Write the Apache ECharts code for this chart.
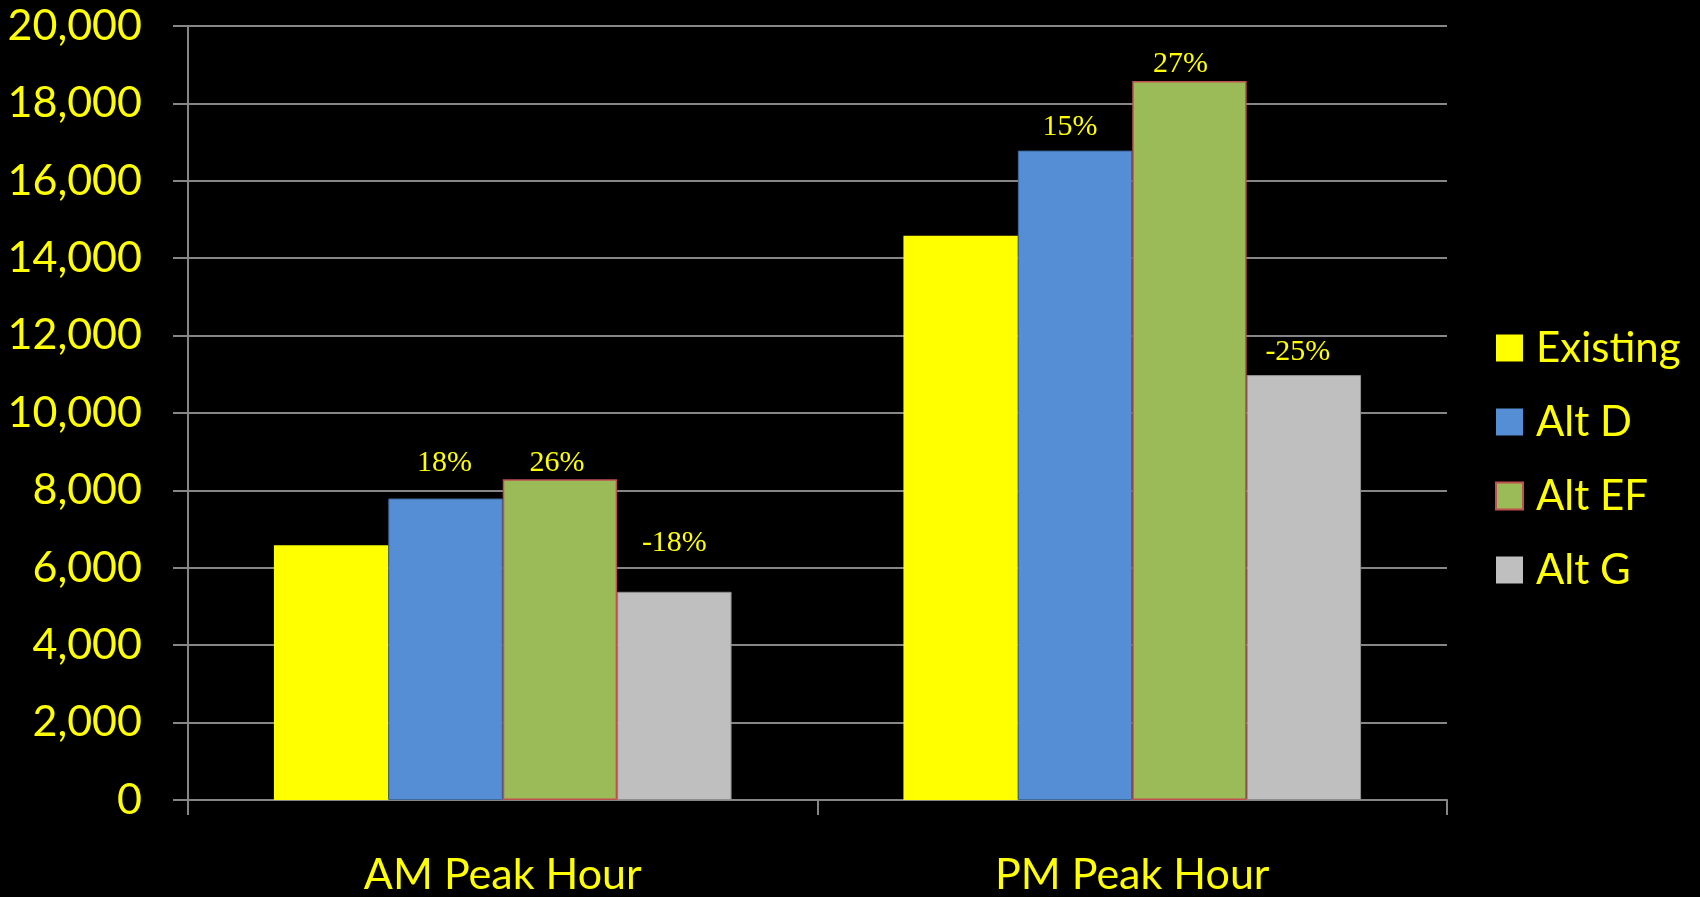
<!DOCTYPE html>
<html>
<head>
<meta charset="utf-8">
<script src="https://cdn.jsdelivr.net/npm/echarts@6/dist/echarts.min.js"></script>
<style>
  html, body { margin: 0; padding: 0; background: #000; }
  #chart { width: 1700px; height: 897px; }
</style>
</head>
<body>
<div id="chart"></div>
<script>
// Peak-hour volumes by alternative
const categories = ['AM Peak Hour', 'PM Peak Hour'];
const seriesNames = ['Existing', 'Alt D', 'Alt EF', 'Alt G'];
const existing = [6580, 14580];
const altD = [7790, 16780];
const altEF = [8290, 18580];
const altG = [5380, 10980];
const yMin = 0;
const yMax = 20000;
const yStep = 2000;

// Label placement tweaks per alternative: [dx, distance above bar] for AM, PM
const labelPlace = {
  'Alt D': [[-1, 20], [-5, 8]],
  'Alt EF': [[-3, 1], [-9, 2]],
  'Alt G': [[0, 34], [-6, 8]]
};

const YELLOW = '#FFFF00';
const GRID = '#868686';
const labelFont = 'Lato';

const styles = {
  'Existing': { color: '#FFFF00', borderWidth: 0 },
  'Alt D': { color: '#558ED5', borderColor: '#3F6A9E', borderWidth: 1 },
  'Alt EF': { color: '#9BBB59', borderColor: '#C0504D', borderWidth: 1.5 },
  'Alt G': { color: '#BFBFBF', borderColor: '#8F8F8F', borderWidth: 1 }
};

const values = { 'Existing': existing, 'Alt D': altD, 'Alt EF': altEF, 'Alt G': altG };

function pctChange(v, i) {
  return Math.round((v / existing[i] - 1) * 100) + '%';
}

const series = seriesNames.map(function (name) {
  const vals = values[name];
  return {
    name: name,
    type: 'bar',
    barGap: '0%',
    barCategoryGap: '27.3%',
    itemStyle: styles[name],
    emphasis: { disabled: true },
    data: vals.map(function (v, i) {
      const item = { value: v };
      if (name !== 'Existing') {
        const p = labelPlace[name][i];
        item.label = {
          show: true,
          position: 'top',
          distance: p[1],
          offset: [p[0], 0],
          formatter: pctChange(v, i),
          color: YELLOW,
          fontFamily: 'Liberation Serif',
          fontSize: 30
        };
      }
      return item;
    })
  };
});

const chart = echarts.init(document.getElementById('chart'), null, { renderer: 'canvas' });
chart.setOption({
  backgroundColor: '#000000',
  animation: false,
  grid: { left: 188, right: 253, top: 26, bottom: 96, containLabel: false },
  legend: {
    orient: 'vertical',
    left: 1490,
    top: 322,
    icon: 'rect',
    itemWidth: 27,
    itemHeight: 27,
    itemGap: 32,
    selectedMode: false,
    data: [
      { name: 'Existing' },
      { name: 'Alt D', itemStyle: { borderWidth: 0 } },
      { name: 'Alt EF', itemStyle: { borderWidth: 2 } },
      { name: 'Alt G', itemStyle: { borderWidth: 0 } }
    ],
    textStyle: {
      color: YELLOW,
      fontFamily: labelFont,
      fontSize: 42,
      lineHeight: 42,
      padding: [0, 0, 0, 8]
    }
  },
  xAxis: {
    type: 'category',
    data: categories,
    axisLine: { show: true, lineStyle: { color: GRID, width: 2 } },
    axisTick: { show: true, length: 15, lineStyle: { color: GRID, width: 2 } },
    axisLabel: {
      color: YELLOW,
      fontFamily: labelFont,
      fontSize: 43,
      margin: 54
    },
    splitLine: { show: false }
  },
  yAxis: {
    type: 'value',
    min: yMin,
    max: yMax,
    interval: yStep,
    axisLine: { show: true, lineStyle: { color: GRID, width: 2 } },
    axisTick: { show: true, length: 15, lineStyle: { color: GRID, width: 2 } },
    axisLabel: {
      color: YELLOW,
      fontFamily: labelFont,
      fontSize: 43,
      margin: 46,
      formatter: function (v) { return v.toLocaleString('en-US'); }
    },
    splitLine: { show: true, lineStyle: { color: GRID, width: 2 } }
  },
  series: series
});
</script>
</body>
</html>
